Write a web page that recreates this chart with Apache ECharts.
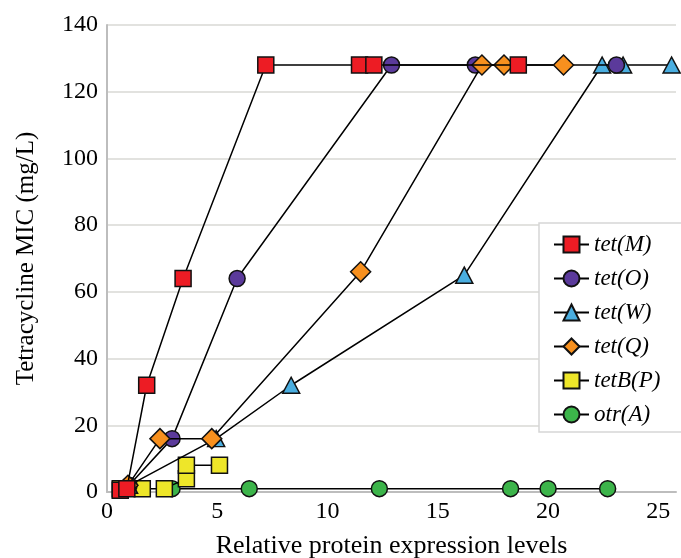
<!DOCTYPE html>
<html>
<head>
<meta charset="utf-8">
<script src="https://cdn.jsdelivr.net/npm/echarts@6/dist/echarts.min.js"></script>
<style>
html,body{margin:0;padding:0;background:#fff;}
#chart{width:681px;height:558px;}
</style>
</head>
<body>
<div id="chart"></div>
<script>
// Series names (legend order)
const seriesNames = ['tet(M)', 'tet(O)', 'tet(W)', 'tet(Q)', 'tetB(P)', 'otr(A)'];

// Relative protein expression levels (x) and MIC (y) for each gene
const tetM_x = [0.6, 0.9, 1.8, 3.45, 7.2, 11.45, 12.1, 18.65];
const tetM_y = [0.5, 1, 32, 64, 128, 128, 128, 128];

const tetO_x = [1.0, 2.95, 5.9, 12.9, 16.7, 23.1];
const tetO_y = [2, 16, 64, 128, 128, 128];

const tetW_x = [1.0, 4.95, 8.35, 16.2, 22.45, 23.4, 25.6];
const tetW_y = [2, 16, 32, 65, 128, 128, 128];

const tetQ_x = [0.95, 2.4, 4.75, 11.5, 17.0, 18.0, 20.7];
const tetQ_y = [2, 16, 16, 66, 128, 128, 128];

const tetBP_x = [0.6, 1.6, 2.6, 3.6, 3.6, 5.1];
const tetBP_y = [1, 1, 1, 4, 8, 8];

const otrA_x = [2.95, 6.45, 12.35, 18.3, 20.0, 22.7];
const otrA_y = [1, 1, 1, 1, 1, 1];

// Axis ticks
const xTicks = { min: 0, max: 25.8, interval: 5 };
const yTicks = { min: 0, max: 140, interval: 20 };

function pairs(xs, ys) { return xs.map((x, i) => [x, ys[i]]); }

const FONT = "'Liberation Serif', 'Times New Roman', Times, serif";
const styles = [
  { color: '#ED1C24', symbol: 'rect', size: 16, z: 7 },
  { color: '#5B3A9B', symbol: 'circle', size: 16, z: 5 },
  { color: '#4AAEE0', symbol: 'triangle', size: [17, 16], z: 4 },
  { color: '#F7901E', symbol: 'diamond', size: 20, z: 6 },
  { color: '#EEE629', symbol: 'rect', size: 16, z: 3 },
  { color: '#3CB44A', symbol: 'circle', size: 16, z: 2 }
];
const datasets = [
  pairs(tetM_x, tetM_y), pairs(tetO_x, tetO_y), pairs(tetW_x, tetW_y),
  pairs(tetQ_x, tetQ_y), pairs(tetBP_x, tetBP_y), pairs(otrA_x, otrA_y)
];

const series = seriesNames.map((name, i) => ({
  name: name,
  type: 'line',
  data: datasets[i],
  symbol: styles[i].symbol,
  symbolSize: styles[i].size,
  showAllSymbol: true,
  z: styles[i].z,
  lineStyle: { color: '#000', width: 1.5 },
  itemStyle: { color: styles[i].color, borderColor: '#111', borderWidth: 1.5, opacity: 1 },
  emphasis: { disabled: true },
  animation: false
}));

const chart = echarts.init(document.getElementById('chart'), null, { renderer: 'canvas' });
chart.setOption({
  backgroundColor: '#fff',
  animation: false,
  grid: { left: 107, right: 5, top: 25, bottom: 66, containLabel: false, outerBoundsMode: 'none' },
  xAxis: {
    type: 'value',
    min: xTicks.min, max: xTicks.max, interval: xTicks.interval,
    name: 'Relative protein expression levels',
    nameLocation: 'middle', nameGap: 41,
    nameTextStyle: { fontFamily: FONT, fontSize: 26, color: '#000' },
    axisLine: { show: true, lineStyle: { color: '#BDBDBD', width: 2 } },
    axisTick: { show: false },
    splitLine: { show: false },
    axisLabel: { fontFamily: FONT, fontSize: 24, color: '#000', margin: 8, showMaxLabel: false }
  },
  yAxis: {
    type: 'value',
    min: yTicks.min, max: yTicks.max, interval: yTicks.interval,
    name: 'Tetracycline MIC (mg/L)',
    nameLocation: 'middle', nameGap: 68,
    nameTextStyle: { fontFamily: FONT, fontSize: 25, color: '#000' },
    axisLine: { show: true, lineStyle: { color: '#BDBDBD', width: 2 } },
    axisTick: { show: false },
    splitLine: { show: true, lineStyle: { color: '#D9D9D4', width: 1.5 } },
    axisLabel: { fontFamily: FONT, fontSize: 24, color: '#000', margin: 9 }
  },
  legend: {
    data: seriesNames,
    orient: 'vertical',
    left: 539, top: 223,
    padding: [10, 24, 6, 14],
    itemWidth: 35, itemHeight: 20, itemGap: 11,
    backgroundColor: '#fff',
    borderColor: '#D6D6D6', borderWidth: 1.5,
    textStyle: { fontFamily: FONT, fontStyle: 'italic', fontSize: 23, color: '#000' },
    selectedMode: false
  },
  series: series
});
</script>
</body>
</html>
